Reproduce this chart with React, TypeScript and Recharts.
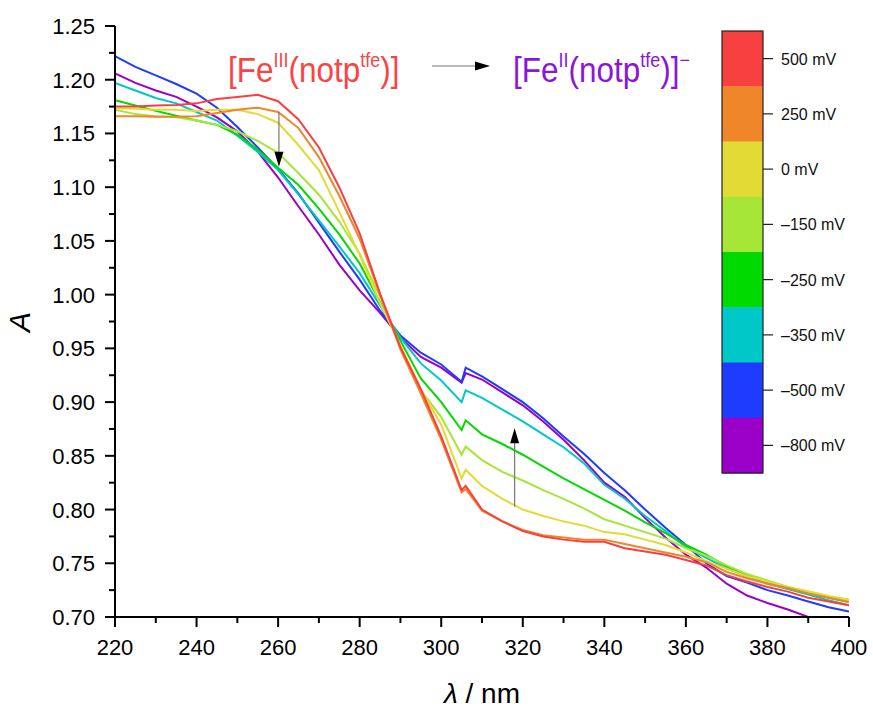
import { LineChart, Line, XAxis, YAxis } from 'recharts'

const WAVELENGTHS = [
  220, 225, 230, 235, 240, 245, 250, 255, 260, 265, 270, 275, 280, 285, 290, 295, 300,
  305, 306, 310, 315, 320, 325, 330, 335, 340, 345, 350, 355, 360, 365, 370, 375, 380,
  385, 390, 395, 400,
]

const POTENTIALS = ['500 mV', '250 mV', '0 mV', '–150 mV', '–250 mV', '–350 mV', '–500 mV', '–800 mV']
const COLORS = ['#f94040', '#f0862a', '#e4da35', '#a6e637', '#00da00', '#00c8c8', '#1e3cff', '#9a00c8']

const A_P500 = [
  1.175, 1.175, 1.176, 1.1765, 1.178, 1.182, 1.184, 1.186, 1.18, 1.163, 1.137, 1.1, 1.057, 1.001, 0.951, 0.912, 0.868,
  0.818, 0.822, 0.8, 0.789, 0.78, 0.775, 0.772, 0.77, 0.77, 0.764, 0.761, 0.758, 0.753, 0.748, 0.739, 0.733, 0.728,
  0.7236, 0.718, 0.7145, 0.711,
]
const A_P250 = [
  1.166, 1.166, 1.1655, 1.1655, 1.166, 1.169, 1.172, 1.174, 1.17, 1.155, 1.128, 1.092, 1.052, 1.0, 0.949, 0.908, 0.865,
  0.816, 0.819, 0.799, 0.789, 0.781, 0.776, 0.774, 0.772, 0.772, 0.768, 0.764, 0.76, 0.756, 0.751, 0.742, 0.736, 0.731,
  0.727, 0.722, 0.718, 0.714,
]
const A_0 = [
  1.1735, 1.173, 1.172, 1.172, 1.171, 1.172, 1.172, 1.168, 1.16, 1.139, 1.116, 1.077, 1.037, 0.992, 0.953, 0.912, 0.879,
  0.829, 0.837, 0.822, 0.81, 0.8, 0.794, 0.789, 0.785, 0.779, 0.777, 0.772, 0.767, 0.76, 0.752, 0.745, 0.738, 0.733,
  0.728, 0.724, 0.7195, 0.716,
]
const A_M150 = [
  1.172, 1.168, 1.166, 1.165, 1.162, 1.158, 1.152, 1.143, 1.132, 1.113, 1.093, 1.068, 1.038, 0.998, 0.952, 0.911, 0.886,
  0.851, 0.8585, 0.846, 0.835, 0.827, 0.818, 0.81, 0.801, 0.791, 0.785, 0.779, 0.773, 0.764, 0.757, 0.748, 0.74, 0.734,
  0.728, 0.7235, 0.719, 0.716,
]
const A_M250 = [
  1.181, 1.176, 1.171, 1.1665, 1.162, 1.158, 1.149, 1.135, 1.118, 1.102, 1.08, 1.056, 1.029, 0.993, 0.957, 0.922, 0.9,
  0.874, 0.883, 0.87, 0.861, 0.851, 0.84, 0.829, 0.819, 0.809, 0.799, 0.788, 0.778, 0.767, 0.758, 0.747, 0.739, 0.732,
  0.727, 0.722, 0.718, 0.714,
]
const A_M350 = [
  1.197, 1.19, 1.183, 1.178, 1.17, 1.162, 1.148, 1.133, 1.116, 1.093, 1.069, 1.045, 1.02, 0.99, 0.96, 0.936, 0.92,
  0.9, 0.911, 0.904, 0.893, 0.882, 0.87, 0.858, 0.843, 0.823, 0.81, 0.794, 0.78, 0.765, 0.755, 0.745, 0.738, 0.731,
  0.726, 0.721, 0.7155, 0.711,
]
const A_M500 = [
  1.222, 1.212, 1.204, 1.196, 1.187, 1.174, 1.156, 1.137, 1.117, 1.094, 1.067, 1.04, 1.014, 0.985, 0.962, 0.946, 0.935,
  0.919, 0.932, 0.924, 0.912, 0.9, 0.885, 0.868, 0.852, 0.834, 0.818, 0.8, 0.783, 0.767, 0.75, 0.738, 0.732, 0.725,
  0.72, 0.7145, 0.709, 0.705,
]
const A_M800 = [
  1.206, 1.197, 1.19, 1.184, 1.175, 1.165, 1.152, 1.133, 1.109, 1.082, 1.056, 1.028, 1.004, 0.983, 0.96, 0.942, 0.932,
  0.918, 0.927, 0.921, 0.909, 0.897, 0.882, 0.865, 0.846, 0.825, 0.812, 0.792, 0.774, 0.758, 0.746, 0.731, 0.72, 0.713,
  0.707, 0.7, null, null,
]

const SERIES = [A_P500, A_P250, A_0, A_M150, A_M250, A_M350, A_M500, A_M800]

const X_TICKS = [220, 230, 240, 250, 260, 270, 280, 290, 300, 310, 320, 330, 340, 350, 360, 370, 380, 390, 400]
const Y_TICKS = [
  0.7, 0.725, 0.75, 0.775, 0.8, 0.825, 0.85, 0.875, 0.9, 0.925, 0.95, 0.975, 1.0, 1.025, 1.05, 1.075, 1.1, 1.125,
  1.15, 1.175, 1.2, 1.225, 1.25,
]

const data = WAVELENGTHS.map((w, i) => {
  const row: Record<string, number | null> = { w }
  SERIES.forEach((s, k) => {
    row['s' + k] = s[i]
  })
  return row
})

const FONT = '"Liberation Sans", Arial, sans-serif'
const W = 873
const H = 711
const PLOT = { left: 115, right: 849, top: 26, bottom: 617 }

// data -> pixel, only for the annotations drawn on top
const px = (l: number) => PLOT.left + ((l - 220) / 180) * (PLOT.right - PLOT.left)
const py = (a: number) => PLOT.bottom - ((a - 0.7) / 0.55) * (PLOT.bottom - PLOT.top)

const XTick = (props: any) => {
  const { x, y, payload, index } = props
  const major = index % 2 === 0
  return (
    <g>
      <line x1={x} x2={x} y1={y} y2={y + (major ? 10 : 6)} stroke="#000" strokeWidth={2} />
      {major && (
        <text x={x} y={y + 38} textAnchor="middle" fontSize={22} fontFamily={FONT} fill="#000">
          {payload.value}
        </text>
      )}
    </g>
  )
}

const YTick = (props: any) => {
  const { x, y, payload, index } = props
  const major = index % 2 === 0
  return (
    <g>
      <line x1={x - (major ? 10 : 6)} x2={x} y1={y} y2={y} stroke="#000" strokeWidth={2} />
      {major && (
        <text x={x - 20} y={y + 8} textAnchor="end" fontSize={22} fontFamily={FONT} fill="#000">
          {Number(payload.value).toFixed(2)}
        </text>
      )}
    </g>
  )
}

const Arrow = ({ x1, y1, x2, y2 }: { x1: number; y1: number; x2: number; y2: number }) => {
  const len = Math.hypot(x2 - x1, y2 - y1)
  const ux = (x2 - x1) / len
  const uy = (y2 - y1) / len
  const hl = 15
  const hw = 4.5
  const bx = x2 - ux * hl
  const by = y2 - uy * hl
  return (
    <g>
      <line x1={x1} y1={y1} x2={bx} y2={by} stroke="#777" strokeWidth={1.2} />
      <polygon
        points={`${x2},${y2} ${bx - uy * hw},${by + ux * hw} ${bx + uy * hw},${by - ux * hw}`}
        fill="#000"
      />
    </g>
  )
}

function ColorBar() {
  const x0 = 722
  const x1 = 763
  const top = 31
  const bottom = 473
  const h = (bottom - top) / COLORS.length
  return (
    <g>
      {COLORS.map((c, i) => (
        <rect key={c} x={x0} y={top + i * h} width={x1 - x0} height={h + 0.5} fill={c} />
      ))}
      <rect x={x0} y={top} width={x1 - x0} height={bottom - top} fill="none" stroke="#222" strokeWidth={1.2} />
      {POTENTIALS.map((p, i) => {
        const yc = top + (i + 0.5) * h
        return (
          <g key={p}>
            <line x1={x1} x2={x1 + 10} y1={yc} y2={yc} stroke="#222" strokeWidth={1.2} />
            <text x={781} y={yc + 6} fontSize={16} fontFamily={FONT} fill="#111">
              {p}
            </text>
          </g>
        )
      })}
    </g>
  )
}

export default function App() {
  return (
    <div style={{ position: 'absolute', left: 0, top: 0, width: W, height: H, background: '#fff' }}>
      <LineChart
        width={W}
        height={H}
        data={data}
        margin={{ top: PLOT.top, right: W - PLOT.right, bottom: H - PLOT.bottom - 40, left: PLOT.left - 60 }}
      >
        <XAxis
          dataKey="w"
          type="number"
          domain={[220, 400]}
          ticks={X_TICKS}
          interval={0}
          allowDataOverflow
          height={40}
          tickSize={0}
          tickMargin={0}
          tickLine={false}
          axisLine={{ stroke: '#000', strokeWidth: 2 }}
          tick={<XTick />}
        />
        <YAxis
          type="number"
          domain={[0.7, 1.25]}
          ticks={Y_TICKS}
          interval={0}
          allowDataOverflow
          width={60}
          tickSize={0}
          tickMargin={0}
          tickLine={false}
          axisLine={{ stroke: '#000', strokeWidth: 2 }}
          tick={<YTick />}
        />
        {SERIES.map((_, k) => SERIES.length - 1 - k).map((k) => (
          <Line
            key={k}
            dataKey={'s' + k}
            type="linear"
            stroke={COLORS[k]}
            strokeWidth={2}
            dot={false}
            isAnimationActive={false}
          />
        ))}
      </LineChart>
      <svg
        width={W}
        height={H}
        style={{ position: 'absolute', left: 0, top: 0, pointerEvents: 'none' }}
      >
        <ColorBar />
        <Arrow x1={px(260.2)} y1={py(1.17)} x2={px(260.2)} y2={py(1.119)} />
        <Arrow x1={px(318)} y1={py(0.8027)} x2={px(318)} y2={py(0.8756)} />
        <Arrow x1={432} y1={66} x2={490} y2={66} />
        <g transform="translate(228,82) scale(0.9,1)">
          <text x={0} y={0} fontSize={35} fontFamily={FONT} fill="#f74545">
            [Fe
            <tspan fontSize={20} dy={-15}>III</tspan>
            <tspan dy={15}>(notp</tspan>
            <tspan fontSize={20} dy={-15}>tfe</tspan>
            <tspan dy={15}>)]</tspan>
          </text>
        </g>
        <g transform="translate(513,82) scale(0.9,1)">
          <text x={0} y={0} fontSize={35} fontFamily={FONT} fill="#8a16d8">
            [Fe
            <tspan fontSize={20} dy={-15}>II</tspan>
            <tspan dy={15}>(notp</tspan>
            <tspan fontSize={20} dy={-15}>tfe</tspan>
            <tspan dy={15}>)]</tspan>
            <tspan fontSize={20} dy={-15}>−</tspan>
          </text>
        </g>
        <text
          x={30}
          y={322}
          transform="rotate(-90 30 322)"
          textAnchor="middle"
          fontSize={30}
          fontStyle="italic"
          fontFamily={FONT}
          fill="#000"
        >
          A
        </text>
        <text x={482} y={703} textAnchor="middle" fontSize={28} fontFamily={FONT} fill="#000">
          <tspan fontStyle="italic">λ</tspan> / nm
        </text>
      </svg>
    </div>
  )
}
